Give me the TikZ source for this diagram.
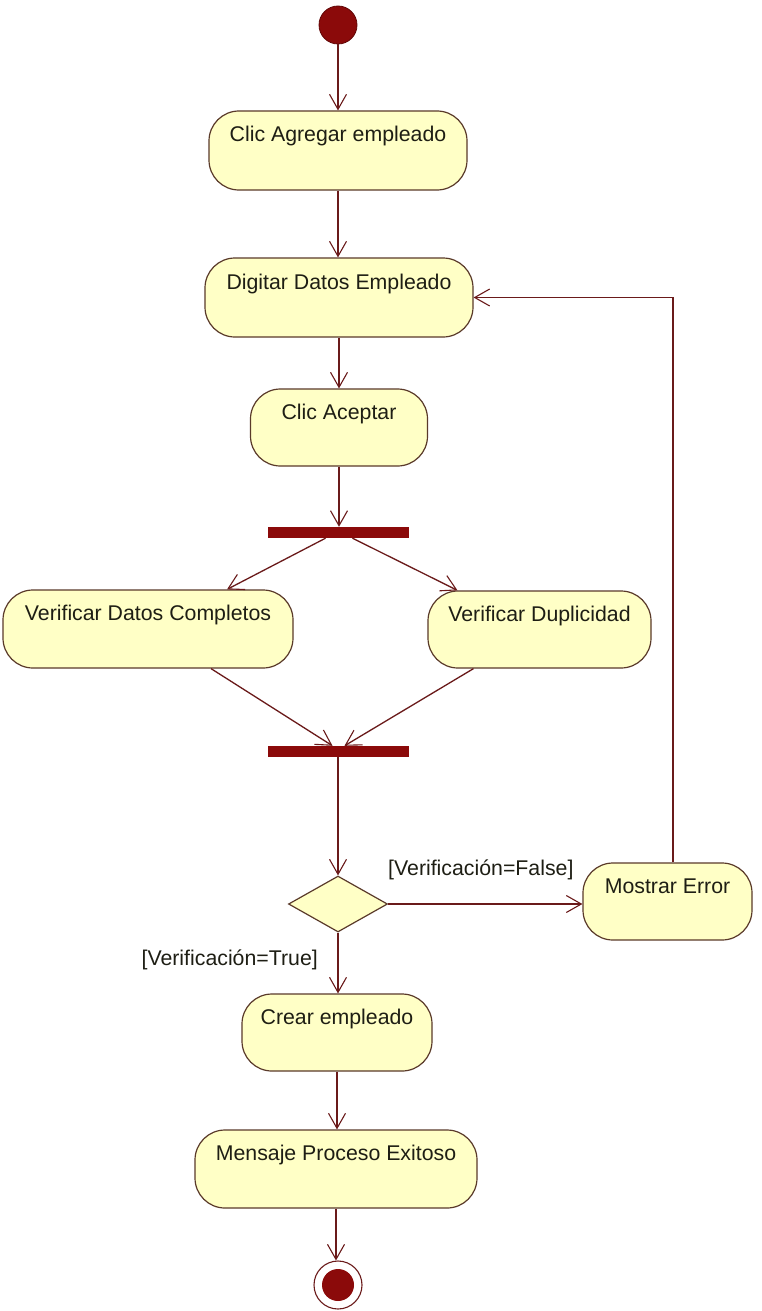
\documentclass[tikz,border=0pt]{standalone}
\usepackage{fontspec}
\setmainfont{Liberation Sans}
\usetikzlibrary{arrows.meta,shapes.geometric,calc}
\definecolor{actfill}{HTML}{FFFFC6}
\definecolor{actborder}{HTML}{5A3A2A}
\definecolor{lnk}{HTML}{6A1A1A}
\definecolor{solid}{HTML}{8B0A0A}
\definecolor{txt}{HTML}{1E1E14}
\tikzset{
  act/.style={draw=actborder, fill=actfill, line width=1.2pt, rounded corners=30pt,
    inner sep=0pt, font=\fontsize{21.3}{25}\selectfont, text=txt,
    text height=14pt, text depth=31pt},
  bar/.style={fill=solid, draw=none, minimum width=141pt, minimum height=11pt, inner sep=0pt},
  flow/.style={draw=lnk, line width=1.3pt, -{Straight Barb[length=15pt,width=17pt,line width=1.1pt]}},
  guard/.style={font=\fontsize{21.3}{25}\selectfont, text=txt, inner sep=0pt},
}
\begin{document}
\begin{tikzpicture}[x=1pt,y=-1pt]
\useasboundingbox (0,0) rectangle (762,1311);
\fill[white] (0,0) rectangle (762,1311);
% initial node
\node[circle, fill=solid, draw=solid!70!black, line width=0.8pt, minimum size=38pt, inner sep=0pt] (start) at (338,25) {};
% activities
\node[act, minimum width=258pt, minimum height=79pt] (a1) at (338,150.5) {Clic Agregar empleado};
\node[act, minimum width=268pt, minimum height=79pt] (a2) at (339,297.5) {Digitar Datos Empleado};
\node[act, minimum width=177pt, minimum height=77pt] (a3) at (339,427.5) {Clic Aceptar};
\node[bar] (fork) at (338.5,532.5) {};
\node[act, minimum width=290pt, minimum height=78pt] (a4) at (148,629) {Verificar Datos Completos};
\node[act, minimum width=223pt, minimum height=77pt] (a5) at (539.5,629.5) {Verificar Duplicidad};
\node[bar] (join) at (338.5,751.5) {};
\node[diamond, draw=actborder, fill=actfill, line width=1.2pt, minimum width=99pt, minimum height=56pt, inner sep=0pt, aspect=1.77] (dec) at (338,904) {};
\node[act, minimum width=169pt, minimum height=77pt] (err) at (667.5,901.5) {Mostrar Error};
\node[act, minimum width=190pt, minimum height=77pt] (a6) at (337,1032.5) {Crear empleado};
\node[act, minimum width=282pt, minimum height=78pt] (a7) at (336,1169) {Mensaje Proceso Exitoso};
% final node
\node[circle, draw=lnk, line width=1.1pt, fill=white, minimum size=48pt, inner sep=0pt] (endo) at (338,1285) {};
\node[circle, fill=solid, minimum size=32pt, inner sep=0pt] (endi) at (338,1285) {};
% connectors
\draw[flow] (start.south) -- (start.south |- a1.north);
\draw[flow] (a1.south) -- (a1.south |- a2.north);
\draw[flow] (a2.south) -- (a2.south |- a3.north);
\draw[flow] (a3.south) -- (a3.south |- fork.north);
\draw[flow] ($(fork.south)+(-13,0)$) -- ($(a4.north)+(79,0)$);
\draw[flow] ($(fork.south)+(14,0)$) -- ($(a5.north)+(-82,0)$);
\draw[flow] ($(a4.south)+(63,0)$) -- ($(join.north)+(-6,0)$);
\draw[flow] ($(a5.south)+(-66,0)$) -- ($(join.north)+(6,0)$);
\draw[flow] (join.south -| dec.north) -- (dec.north);
\draw[flow] (dec.south) -- (dec.south |- a6.north);
\draw[flow] (dec.east) -- (dec.east -| err.west);
\draw[flow] ($(err.north)+(5.5,0)$) |- (a2.east);
\draw[flow] (a6.south) -- (a6.south |- a7.north);
\draw[flow] (a7.south) -- (a7.south |- endo.north);
% guards
\node[guard, anchor=west] (gf) at (388,870) {[Verificación=False]};
\node[guard, anchor=east] (gt) at (318,960) {[Verificación=True]};
\end{tikzpicture}
\end{document}
